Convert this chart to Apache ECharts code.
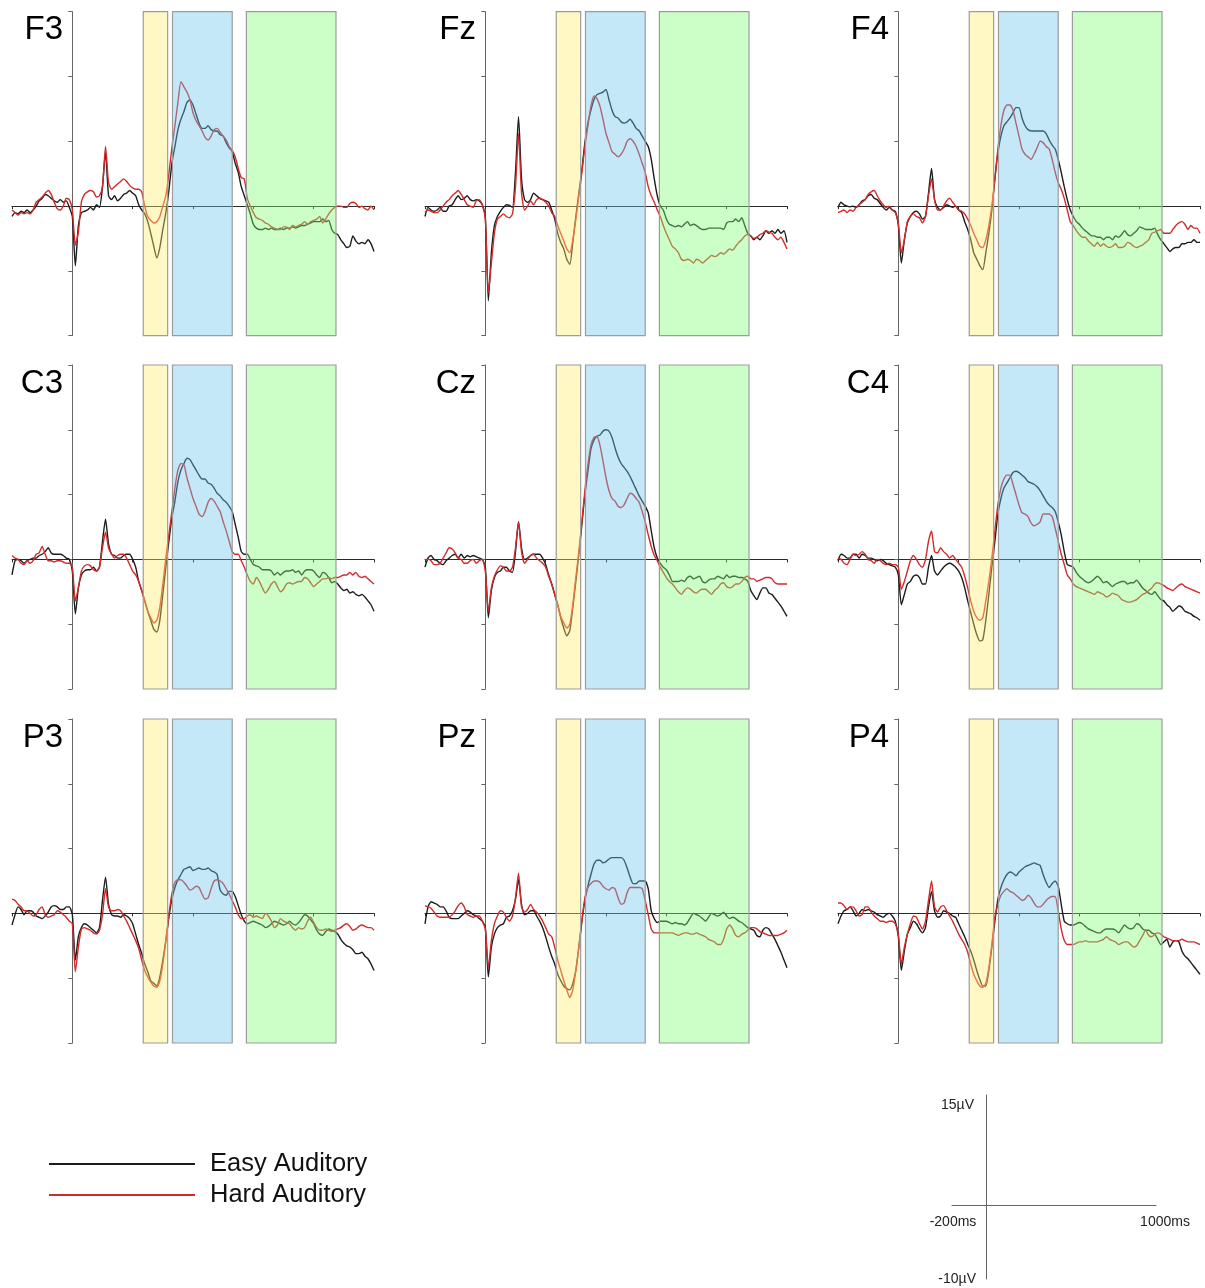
<!DOCTYPE html>
<html>
<head>
<meta charset="utf-8">
<script src="https://cdn.jsdelivr.net/npm/echarts@6/dist/echarts.min.js"></script>
<style>
html,body{margin:0;padding:0;background:#fff;}
#chart{width:1205px;height:1288px;}
</style>
</head>
<body>
<div id="chart"></div>
<script>
// ---------------- DATA ----------------
// time axis (ms), one sample every 10 ms from -200 to 1000
const times = Array.from({length: 121}, (_, i) => -200 + 10 * i);

const channels = ['F3', 'Fz', 'F4', 'C3', 'Cz', 'C4', 'P3', 'Pz', 'P4'];
const seriesNames = ['Easy Auditory', 'Hard Auditory'];

// analysis windows (ms)
const windows = [[235, 316], [332, 530], [577, 874]];

// scale bar labels
const scaleLabels = ['15\u00b5V', '-10\u00b5V', '-200ms', '1000ms'];

// amplitudes (µV)
const F3_easy = [-0.8,-0.5,-0.6,-0.4,-0.5,-0.3,-0.5,-0.3,0,0.4,
 0.6,0.9,0.8,0.6,0.4,0.3,0.5,0.3,0.4,-0.1,
 -0.8,-4.6,-1.5,-0.5,-0.4,-0.3,-0.1,-0.3,0.1,-0.1,
 1.5,4.2,0.8,0.5,0.8,0.4,0.6,0.9,1.0,1.2,
 1.0,0.8,0.1,-0.3,-0.6,-1.2,-2.1,-3.1,-4.0,-3.2,
 -1.8,-0.5,1.2,3.3,4.6,5.9,6.7,7.3,8.0,8.2,
 7.8,7.1,6.4,6.0,6.0,6.2,5.9,5.8,5.8,5.5,
 5.4,4.9,4.5,4.2,3.3,2.6,1.5,0.8,0.1,-0.6,
 -1.4,-1.7,-1.8,-1.8,-1.7,-1.8,-1.7,-1.8,-1.8,-1.7,
 -1.8,-1.7,-1.7,-1.6,-1.7,-1.6,-1.5,-1.5,-1.4,-1.3,
 -1.2,-1.2,-1.2,-1.0,-1.2,-1.1,-1.8,-2.1,-2.2,-2.6,
 -2.9,-3.2,-3.1,-2.3,-2.7,-2.9,-2.8,-2.9,-2.6,-2.9,
 -3.5];
const F3_hard = [-0.3,-0.5,-0.7,-0.5,-0.6,-0.5,-0.6,-0.3,0.3,0.5,
 0.7,1.0,1.2,0.9,0.3,-0.2,-0.3,0.0,0.6,0.5,
 -0.3,-3.0,-2.0,0.3,0.9,1.1,1.2,1.1,0.7,0.8,
 1.5,4.6,1.8,1.3,1.5,1.7,1.9,2.1,1.9,1.6,
 1.4,1.3,1.3,1.1,0.0,-0.8,-1.1,-1.3,-1.2,-0.8,
 0.0,0.8,2.5,4.5,6.2,8.0,9.6,9.2,8.8,8.2,
 7.2,6.6,6.2,5.8,5.3,5.1,5.4,5.9,6.0,5.7,
 5.4,5.1,4.6,4.3,3.8,2.9,2.2,2.1,0.6,0.0,
 -0.5,-0.9,-1.0,-1.1,-1.3,-1.4,-1.6,-1.7,-1.8,-1.8,
 -1.6,-1.6,-1.8,-1.5,-1.6,-1.5,-1.4,-1.2,-1.4,-1.2,
 -1.1,-1.0,-0.8,-1.3,-1.0,-0.6,-0.3,-0.1,0.0,0.0,
 -0.1,-0.1,0.2,0.3,0.2,-0.1,0.0,-0.2,-0.3,0.0,
 -0.3];
const Fz_easy = [-0.8,-0.1,-0.3,-0.4,-0.3,-0.1,-0.4,-0.4,0,0.1,
 0.5,0.8,0.5,0.6,0.8,0.5,0.4,0.5,0.4,0.1,
 -0.8,-7.3,-3.6,-1.5,-0.8,-0.4,-0.1,0.1,0.05,-0.1,
 2.6,6.9,2.1,0.5,0.3,0.5,1.0,0.8,0.6,0.5,
 0.4,0.3,-0.3,-1.0,-2.1,-2.8,-3.3,-4.1,-4.5,-2.8,
 -0.8,1.0,2.8,4.9,6.4,7.4,8.2,8.6,8.7,8.8,
 9.0,8.2,7.4,6.9,6.8,6.5,6.4,6.5,6.7,6.4,
 6.0,5.8,5.4,5.0,4.6,3.6,2.1,0.8,0.0,-0.3,
 -1.0,-1.4,-1.5,-1.6,-1.5,-1.6,-1.4,-1.2,-1.5,-1.4,
 -1.5,-1.7,-1.8,-1.8,-1.7,-1.7,-1.7,-1.7,-1.7,-1.8,
 -1.3,-1.2,-1.2,-1.0,-1.2,-0.9,-1.5,-2.1,-2.3,-2.6,
 -2.4,-2.6,-2.3,-1.9,-2.1,-1.9,-2.1,-1.8,-2.1,-1.9,
 -2.8];
const Fz_hard = [-0.5,-0.3,-0.4,-0.5,-0.5,-0.3,0,0.3,0.5,0.8,
 1.0,1.2,0.9,0.5,0.1,0,-0.1,0.4,0.5,0.1,
 -1.0,-6.7,-4.4,-2.1,-1.0,-0.8,-0.6,-0.8,-0.9,-0.6,
 1.5,5.6,1.0,-0.3,0,0.4,0.1,0.5,0.6,0.5,
 0.3,0,-0.5,-0.8,-1.5,-2.1,-2.7,-3.3,-3.6,-2.6,
 -1.0,0.8,2.6,4.6,6.2,7.7,8.5,8.3,7.7,6.7,
 5.6,4.9,4.2,4.0,3.8,4.0,4.4,5.0,5.2,5.0,
 4.6,4.0,3.3,2.6,1.5,0.8,0.3,-0.3,-0.8,-1.5,
 -2.1,-2.6,-3.1,-3.3,-3.6,-4.1,-4.2,-4.1,-4.2,-4.4,
 -4.1,-4.2,-4.4,-4.2,-4.0,-3.8,-3.9,-3.8,-3.6,-3.7,
 -3.5,-3.3,-3.4,-3.1,-2.8,-2.6,-2.3,-2.2,-2.3,-2.5,
 -2.4,-2.2,-2.1,-1.9,-2.0,-2.1,-2.4,-2.6,-2.4,-2.8,
 -3.3];
const F4_easy = [-0.1,0.3,0.1,0,-0.05,0,-0.1,0.1,0.4,0.5,
 0.8,0.9,0.6,0.5,0.2,-0.1,-0.3,-0.1,-0.3,-0.4,
 -1.5,-4.4,-2.6,-1.3,-0.8,-0.5,-0.4,-0.6,-1.0,-0.8,
 1.0,2.9,0.5,-0.1,-0.3,-0.1,0.1,0,-0.1,0,
 -0.3,-0.5,-1.2,-1.8,-2.6,-3.6,-4.1,-4.6,-4.9,-3.6,
 -2.1,-0.3,2.1,4.1,5.4,6.2,6.5,6.8,7.2,7.6,
 7.6,6.8,6.2,5.9,5.8,5.8,5.8,5.8,5.8,5.6,
 5.1,4.7,4.4,3.6,2.6,1.5,0.5,-0.3,-0.8,-1.2,
 -1.4,-1.7,-1.9,-2.1,-2.3,-2.3,-2.4,-2.4,-2.6,-2.4,
 -2.4,-2.6,-2.3,-2.4,-2.2,-1.9,-2.2,-2.3,-2.1,-1.9,
 -1.6,-1.7,-1.8,-1.8,-1.8,-1.7,-2.2,-2.6,-2.9,-3.2,
 -3.5,-3.3,-3.2,-3.2,-2.9,-2.9,-2.8,-2.8,-2.6,-2.8,
 -2.8];
const F4_hard = [-0.5,-0.4,-0.3,-0.5,-0.3,-0.4,-0.1,0.1,0.3,0.5,
 0.9,1.1,1.2,0.8,0.4,0.1,-0.1,0,-0.3,-0.5,
 -1.3,-3.6,-2.6,-1.2,-0.8,-0.6,-0.8,-0.9,-1.3,-0.8,
 0.8,2.1,0.5,-0.3,-0.3,0,0.4,0.6,0.3,0,
 -0.3,-0.4,-0.6,-1.0,-1.5,-2.1,-2.6,-3.1,-3.2,-2.6,
 -1.5,0,2.1,4.4,6.2,7.4,7.8,7.8,7.4,6.4,
 5.4,4.4,4.0,3.8,3.6,4.0,4.5,5.0,4.9,4.6,
 4.4,3.6,2.6,1.8,1.3,0.6,-0.3,-1.2,-1.5,-1.9,
 -2.2,-2.4,-2.4,-2.7,-2.9,-3.1,-2.8,-3.1,-2.9,-3.1,
 -3.2,-3.1,-2.9,-3.2,-3.2,-3.1,-2.8,-2.9,-3.1,-3.2,
 -3.1,-3.0,-2.8,-2.6,-2.1,-2.0,-1.9,-1.8,-2.1,-2.1,
 -2.1,-1.8,-1.5,-1.3,-1.2,-1.4,-1.8,-1.5,-1.7,-1.7,
 -2.1];
const C3_easy = [-1.2,-0.1,0,-0.1,-0.3,-0.1,0,0.1,0.1,0.3,
 0.4,0.6,0.9,0.5,0.4,0.4,0.4,0.3,0.1,0,
 -0.9,-4.2,-2.2,-1.2,-0.9,-0.8,-0.8,-0.6,-0.9,-0.6,
 1.4,3.1,1.2,0.4,0.3,0.1,0.1,0.3,0.4,0.4,
 0,-0.6,-1.7,-2.4,-3.2,-4.0,-4.7,-5.4,-5.6,-4.7,
 -2.7,-0.6,1.4,3.2,4.5,6.0,6.9,7.4,7.8,7.7,
 7.3,6.9,6.5,6.2,6.2,5.9,5.8,5.5,5.1,4.9,
 4.6,4.4,4.1,3.7,2.7,1.7,0.6,0.4,0.4,0,
 -0.4,-0.5,-0.6,-0.8,-0.8,-0.8,-0.9,-1.2,-1.0,-1.2,
 -1.0,-0.9,-0.9,-0.8,-1.0,-0.9,-1.2,-0.9,-0.8,-0.8,
 -0.9,-1.2,-1.4,-1.0,-1.1,-1.4,-1.8,-1.7,-1.9,-2.2,
 -2.4,-2.3,-2.6,-2.5,-2.7,-2.8,-2.7,-2.9,-3.2,-3.5,
 -4.0];
const C3_hard = [0.3,0.1,0,-0.3,-0.4,-0.1,-0.3,-0.1,0.4,0.5,
 1.0,0.4,-0.1,-0.1,-0.2,-0.1,-0.1,-0.2,-0.3,-0.3,
 -0.6,-3.2,-2.2,-0.9,-0.5,-0.4,-0.5,-0.8,-0.9,-0.6,
 0.9,2.1,0.9,0.4,0.1,0.3,0.4,0.4,0.1,-0.4,
 -0.9,-1.2,-1.7,-2.4,-3.2,-4.0,-4.5,-4.9,-4.7,-3.7,
 -1.9,0.1,1.9,3.7,5.5,6.9,7.4,7.3,6.3,5.5,
 4.7,4.1,3.5,3.3,3.7,4.4,4.7,4.5,4.1,3.7,
 2.9,2.2,1.4,0.6,0.4,0.4,-0.1,-0.6,-1.2,-1.7,
 -1.9,-1.4,-1.7,-2.2,-2.6,-2.3,-1.9,-1.7,-2.1,-2.5,
 -2.3,-1.9,-1.8,-1.9,-1.8,-1.7,-1.7,-1.4,-1.5,-1.8,
 -2.1,-1.9,-1.7,-1.5,-1.5,-1.4,-1.5,-1.4,-1.4,-1.3,
 -1.2,-1.2,-1.0,-1.2,-1.0,-1.3,-1.4,-1.3,-1.5,-1.7,
 -1.9];
const Cz_easy = [-0.6,0.1,0.3,0,-0.1,-0.3,-0.4,-0.1,0.1,0.3,
 0.4,0.1,0.4,0.1,0.3,0.2,0.3,0.2,0.1,0,
 -0.6,-4.5,-2.4,-1.4,-1.0,-0.9,-0.6,-0.6,-0.9,-1.0,
 0.6,2.9,0.9,0,0.1,0.3,0.4,0.4,0.4,0.1,
 -0.4,-1.2,-1.9,-2.7,-3.5,-4.5,-5.3,-5.9,-5.5,-3.7,
 -1.7,0.4,2.7,5.0,6.8,8.5,9.2,9.5,9.6,9.9,
 10.0,9.9,9.4,8.6,7.9,7.4,7.1,6.8,6.4,5.9,
 5.4,4.9,4.5,4.1,3.6,2.2,0.9,0.1,-0.3,-0.6,
 -0.8,-1.2,-1.7,-1.7,-1.7,-1.6,-1.7,-1.4,-1.3,-1.5,
 -1.4,-1.3,-1.7,-1.8,-1.6,-1.5,-1.5,-1.3,-1.4,-1.5,
 -1.2,-1.4,-1.3,-1.3,-1.4,-1.4,-1.5,-1.7,-2.4,-2.8,
 -3.1,-2.6,-2.2,-2.2,-2.6,-2.7,-3.0,-3.3,-3.6,-4.0,
 -4.4];
const Cz_hard = [0,0,-0.1,-0.4,-0.4,-0.3,0.1,0.5,0.9,0.8,
 0.5,0.1,0,-0.3,-0.3,-0.1,0,-0.3,-0.1,0,
 -0.9,-4.0,-2.2,-1.3,-0.8,-0.5,-0.6,-0.9,-0.9,-0.6,
 0.9,2.9,0.6,-0.3,0,0.3,0.4,0.1,-0.1,-0.3,
 -0.6,-1.3,-1.9,-2.7,-3.5,-4.4,-4.9,-5.3,-5.0,-3.5,
 -1.4,0.6,2.9,5.3,7.3,8.8,9.4,9.5,8.8,7.6,
 6.3,5.3,4.7,4.5,4.1,4.0,4.2,4.7,5.1,5.0,
 4.7,4.4,3.7,2.9,1.9,1.0,0.3,-0.1,-0.6,-1.0,
 -1.4,-1.7,-1.9,-2.2,-2.5,-2.7,-2.4,-2.2,-2.3,-2.5,
 -2.6,-2.4,-2.3,-2.3,-2.5,-2.7,-2.4,-2.2,-1.9,-1.8,
 -2.1,-2.2,-2.1,-1.9,-1.9,-1.7,-1.4,-1.3,-1.5,-1.5,
 -1.7,-1.6,-1.5,-1.4,-1.4,-1.5,-1.8,-1.9,-1.9,-1.9,
 -1.9];
const C4_easy = [-0.1,0.4,0.3,0.1,0.1,0.4,0.4,0.1,0.4,0.3,
 0.1,0.1,0,-0.1,0,-0.1,-0.3,-0.4,-0.5,-0.6,
 -1.2,-3.5,-2.7,-1.9,-1.7,-1.3,-1.2,-1.4,-1.9,-1.9,
 -0.6,0.3,-0.9,-1.2,-0.9,-0.6,-0.4,-0.3,-0.4,-0.6,
 -0.9,-1.4,-2.2,-3.2,-4.1,-5.0,-5.8,-6.3,-6.2,-4.7,
 -2.7,-0.6,1.4,3.5,4.7,5.5,5.9,6.3,6.7,6.8,
 6.7,6.5,6.3,6.0,5.9,5.8,5.6,5.3,4.9,4.5,
 4.2,4.0,3.7,2.9,1.9,0.6,-0.4,-0.5,-0.6,-1.0,
 -1.3,-1.5,-1.7,-1.8,-1.7,-1.5,-1.3,-1.5,-1.8,-1.7,
 -1.9,-2.1,-1.9,-1.8,-1.7,-1.7,-1.9,-1.8,-1.8,-1.6,
 -1.9,-2.2,-2.4,-2.6,-2.7,-2.5,-2.8,-3.1,-3.2,-3.5,
 -3.7,-4.0,-3.8,-3.6,-3.7,-4.0,-4.1,-4.2,-4.4,-4.5,
 -4.7];
const C4_hard = [0.1,0,-0.3,-0.4,0,0.4,0.3,0.4,0.6,0.4,
 0,-0.1,-0.3,0,-0.1,-0.3,-0.4,-0.3,-0.4,-0.4,
 -0.6,-2.3,-1.7,-0.9,-0.1,0.3,0,-0.4,-0.6,0,
 1.4,2.2,0.6,0.5,0.9,0.6,0.4,0.1,0.3,0,
 -0.3,-0.6,-1.3,-2.2,-3.2,-4.0,-4.5,-4.7,-4.5,-3.2,
 -1.7,0.1,2.2,4.2,5.5,6.2,6.5,6.5,5.8,5.0,
 4.2,3.6,3.5,3.3,2.8,2.6,2.7,2.9,3.5,3.5,
 3.5,3.3,2.4,1.4,0.4,-0.4,-1.2,-1.5,-1.9,-2.1,
 -2.2,-2.3,-2.4,-2.5,-2.6,-2.7,-2.5,-2.6,-2.7,-2.9,
 -2.8,-2.6,-2.7,-2.8,-3.1,-3.2,-3.3,-3.3,-3.2,-3.1,
 -2.9,-2.7,-2.6,-2.4,-2.2,-1.9,-1.8,-1.9,-2.0,-2.2,
 -2.3,-2.4,-2.2,-2.0,-1.9,-2.1,-2.2,-2.3,-2.4,-2.5,
 -2.6];
const P3_easy = [-0.9,-0.1,0.5,0.3,-0.1,0.2,0.2,0.1,-0.2,-0.3,
 -0.4,-0.2,0.1,0.5,0.6,0.5,0.3,0.3,0.5,0.5,
 -0.1,-3.6,-1.8,-1.1,-0.8,-0.9,-1.1,-1.3,-1.5,-1.1,
 1.0,2.8,0.7,-0.1,-0.2,-0.2,-0.3,-0.1,-0.2,-0.4,
 -0.8,-1.6,-2.4,-3.1,-3.9,-4.5,-5.2,-5.4,-5.6,-4.9,
 -3.6,-2.1,-0.3,1.1,2.0,2.6,3.0,3.4,3.5,3.6,
 3.3,3.4,3.5,3.4,3.4,3.5,3.3,3.2,3.0,1.8,
 1.5,1.4,1.7,1.7,1.3,0.6,-0.1,-0.6,-0.8,-0.7,
 -0.6,-0.7,-0.8,-0.9,-1.1,-1.0,-0.8,-0.6,-0.7,-0.8,
 -0.9,-0.8,-0.6,-0.8,-0.9,-0.7,-0.4,-0.1,-0.2,-0.5,
 -0.8,-1.3,-1.6,-1.7,-1.4,-1.2,-1.3,-1.4,-1.6,-2.0,
 -2.3,-2.5,-2.6,-2.8,-3.1,-3.1,-3.0,-3.3,-3.5,-3.9,
 -4.4];
const P3_hard = [1.1,1.0,0.7,0.5,0.2,0.2,0,-0.2,-0.1,0.3,
 0.5,-0.1,-0.3,-0.2,-0.1,0.2,0.1,-0.1,-0.3,-0.6,
 -0.8,-4.5,-2.6,-1.2,-1.1,-1.2,-1.3,-1.5,-1.6,-1.3,
 -0.1,1.9,0.5,0.2,0.2,0.3,0.2,-0.2,-0.6,-1.1,
 -1.6,-2.1,-2.7,-3.6,-4.4,-4.9,-5.3,-5.6,-5.7,-5.2,
 -3.9,-2.1,-0.1,1.5,2.4,2.6,2.6,2.4,2.1,1.8,
 1.9,2.1,2.0,1.5,1.1,1.2,1.9,2.5,2.6,2.5,
 2.3,1.9,1.5,1.0,0.5,-0.1,-0.4,-0.4,-0.2,-0.1,
 -0.3,-0.2,-0.3,-0.4,0,-0.2,-0.6,-1.1,-0.9,-0.4,
 -0.6,-0.7,-0.8,-1.1,-1.3,-1.1,-1.2,-1.1,-0.6,-0.3,
 -0.7,-1.1,-1.3,-1.3,-1.2,-1.3,-1.4,-1.3,-1.2,-1.1,
 -0.9,-0.8,-1.0,-1.3,-1.2,-1.0,-0.9,-1.0,-1.1,-1.1,
 -1.3];
const Pz_easy = [-0.8,0.5,0.9,0.8,0.7,0.5,0.5,0.2,-0.3,-0.4,
 -0.4,-0.4,-0.2,0,0.2,0.1,-0.1,-0.2,-0.4,-0.6,
 -1.1,-4.9,-2.6,-1.6,-1.1,-0.9,-0.8,-0.3,-0.2,0.2,
 1.1,2.6,0.7,-0.1,0,0.2,0.2,-0.2,-0.6,-1.1,
 -1.8,-2.6,-3.3,-3.9,-4.7,-5.2,-5.6,-5.8,-5.9,-5.4,
 -4.4,-2.6,-0.6,1.0,2.1,3.0,3.8,4.1,4.1,3.9,
 4.0,4.2,4.3,4.3,4.3,4.3,4.1,3.5,2.8,2.3,
 2.3,2.5,2.5,2.5,1.9,0.2,-0.4,-0.7,-0.6,-0.6,
 -0.6,-0.7,-0.8,-0.7,-0.8,-0.8,-0.9,-0.7,-0.3,0,
 -0.1,-0.2,-0.4,-0.6,-0.3,0,-0.1,-0.2,-0.1,0.1,
 -0.2,-0.4,-0.3,-0.4,-0.6,-0.7,-0.9,-1.1,-1.2,-1.3,
 -1.7,-1.8,-1.3,-1.1,-1.2,-1.6,-2.0,-2.5,-3.0,-3.6,
 -4.2];
const Pz_hard = [0.6,0.5,0.4,0.1,-0.2,-0.3,-0.3,-0.3,-0.3,-0.1,
 0.2,0.6,0.8,0.5,-0.1,-0.2,-0.3,-0.2,-0.2,-0.6,
 -1.2,-4.2,-2.1,-0.8,-0.2,0.2,0.1,-0.3,-0.6,-0.2,
 1.2,3.1,0.5,0.1,0.3,0.7,0.3,0.1,-0.2,-0.6,
 -1.1,-1.6,-1.8,-2.6,-3.6,-4.4,-5.2,-5.9,-6.5,-5.9,
 -4.4,-2.6,-0.6,1.2,2.0,2.3,2.5,2.5,2.4,2.1,
 1.9,1.8,2.0,1.9,1.2,0.7,0.8,1.6,2.0,2.0,
 2.0,2.0,1.9,1.0,-0.1,-1.2,-1.5,-1.5,-1.5,-1.5,
 -1.5,-1.5,-1.5,-1.6,-1.7,-1.6,-1.5,-1.5,-1.6,-1.6,
 -1.5,-1.6,-1.7,-1.8,-2.0,-2.1,-2.2,-2.4,-2.4,-2.0,
 -1.2,-0.9,-1.2,-1.7,-1.8,-1.6,-1.5,-1.3,-1.1,-1.1,
 -1.2,-1.4,-1.5,-1.6,-1.7,-1.7,-1.7,-1.7,-1.6,-1.5,
 -1.3];
const P4_easy = [-0.8,-0.2,0.2,0.3,0.5,0.2,-0.2,0,0.3,0.2,
 0.3,0.2,0.1,-0.1,-0.2,-0.3,-0.1,0,-0.2,-0.6,
 -1.8,-4.4,-2.9,-1.6,-1.1,-0.6,-0.8,-1.2,-1.5,-1.1,
 0.5,1.7,0.2,-0.3,-0.2,0.2,0.1,0,-0.2,-0.3,
 -0.8,-1.3,-1.8,-2.4,-2.9,-3.6,-4.4,-5.1,-5.6,-5.6,
 -4.4,-2.6,-0.6,1.1,2.0,2.6,3.0,3.2,3.1,2.9,
 3.2,3.4,3.6,3.7,3.8,3.9,3.8,3.7,3.0,2.4,
 2.0,2.3,2.5,2.1,0.7,-0.6,-0.8,-0.9,-0.9,-0.8,
 -0.7,-0.8,-1.0,-1.2,-1.3,-1.4,-1.5,-1.5,-1.3,-1.2,
 -1.2,-1.2,-1.3,-1.5,-1.2,-0.9,-1.1,-1.2,-1.1,-0.8,
 -0.9,-1.2,-1.3,-1.3,-1.5,-1.6,-2.0,-2.4,-2.2,-2.0,
 -2.6,-2.2,-2.1,-2.2,-2.9,-3.3,-3.5,-3.8,-4.1,-4.4,
 -4.7];
const P4_hard = [0.8,0.8,0.6,0.3,0.5,0.5,0.2,-0.2,-0.1,0.5,
 0.5,0.1,-0.2,-0.4,-0.6,-0.6,-0.7,-0.6,-0.6,-0.8,
 -1.6,-3.9,-2.6,-1.6,-0.8,-0.2,-0.3,-0.8,-1.2,-0.6,
 1.0,2.5,0.5,0.1,0.5,0.6,0.2,-0.2,-0.6,-1.1,
 -1.6,-2.0,-2.4,-3.0,-3.9,-4.7,-5.2,-5.6,-5.7,-5.4,
 -4.2,-2.4,-0.3,0.7,1.4,1.7,1.9,1.7,1.6,1.4,
 1.2,1.0,1.1,1.4,1.2,0.8,0.5,0.5,0.7,1.0,
 1.2,1.3,1.3,0.2,-1.2,-2.1,-2.4,-2.4,-2.4,-2.3,
 -2.2,-2.2,-2.1,-2.2,-2.2,-2.2,-2.2,-2.1,-2.0,-1.8,
 -2.0,-2.1,-2.2,-2.4,-2.3,-2.2,-2.2,-2.4,-2.6,-2.5,
 -2.1,-1.7,-1.3,-1.7,-1.8,-1.6,-1.5,-1.6,-1.8,-1.9,
 -2.0,-2.1,-2.1,-2.1,-2.0,-2.1,-2.2,-2.2,-2.2,-2.3,
 -2.4];

const easyData = [F3_easy, Fz_easy, F4_easy, C3_easy, Cz_easy, C4_easy, P3_easy, Pz_easy, P4_easy];
const hardData = [F3_hard, Fz_hard, F4_hard, C3_hard, Cz_hard, C4_hard, P3_hard, Pz_hard, P4_hard];

// ---------------- LAYOUT / STYLE ----------------
const FONT = '"Liberation Sans", Arial, Helvetica, sans-serif';
const colLeft = [12, 425, 838];
const rowTop = [11.7, 365, 719];
const PW = 362, PH = 324;
const boxFills = ['rgba(255,238,110,0.40)', 'rgba(110,197,238,0.40)', 'rgba(128,255,118,0.40)'];
const lineColors = ['#1c1c1c', '#d12a2a'];

const grids = [], xAxes = [], yAxes = [], series = [], graphics = [];

channels.forEach((ch, i) => {
  const r = Math.floor(i / 3), c = i % 3;
  grids.push({left: colLeft[c], top: rowTop[r], width: PW, height: PH, containLabel: false});
  xAxes.push({
    type: 'value', gridIndex: i, min: -200, max: 1000, interval: 200,
    axisLine: {show: true, onZero: true, lineStyle: {color: '#2a2a2a', width: 1}},
    axisTick: {show: true, length: 3, lineStyle: {color: '#2a2a2a'}},
    axisLabel: {show: false}, splitLine: {show: false}
  });
  yAxes.push({
    type: 'value', gridIndex: i, min: -10, max: 15, interval: 5,
    axisLine: {show: true, onZero: true, lineStyle: {color: '#666', width: 1}},
    axisTick: {show: true, length: 4, lineStyle: {color: '#666'}},
    axisLabel: {show: false}, splitLine: {show: false}
  });
  [easyData[i], hardData[i]].forEach((arr, k) => {
    series.push({
      name: seriesNames[k], type: 'line', xAxisIndex: i, yAxisIndex: i,
      data: times.map((t, j) => [t, arr[j]]),
      showSymbol: false, symbol: 'none', smooth: 0.2, z: 2 + k,
      lineStyle: {color: lineColors[k], width: 1.4},
      itemStyle: {color: lineColors[k]},
      animation: false
    });
  });
  series.push({
    type: 'custom', xAxisIndex: i, yAxisIndex: i, z: 10, silent: true,
    data: windows.map(w => [w[0], w[1], 0]),
    encode: {x: [0, 1], y: 2},
    renderItem: (params, api) => {
      const p0 = api.coord([api.value(0), 15]);
      const p1 = api.coord([api.value(1), -10]);
      return {type: 'rect',
        shape: {x: p0[0], y: p0[1], width: p1[0] - p0[0], height: p1[1] - p0[1]},
        style: {fill: boxFills[params.dataIndex], stroke: '#9c9c9c', lineWidth: 1.2}};
    },
    animation: false
  });
  graphics.push({
    type: 'text', x: colLeft[c] + 51, y: rowTop[r] + 2,
    style: {text: ch, font: '33px ' + FONT, fill: '#000', align: 'right', textAlign: 'right', verticalAlign: 'top', textVerticalAlign: 'top'}
  });
});

// scale bar panel
grids.push({left: 952, top: 1095, width: 204, height: 184});
xAxes.push({type: 'value', gridIndex: 9, min: -200, max: 1000, interval: 200,
  axisLine: {show: true, onZero: true, lineStyle: {color: '#666', width: 1}},
  axisTick: {show: false}, axisLabel: {show: false}, splitLine: {show: false}});
yAxes.push({type: 'value', gridIndex: 9, min: -10, max: 15, interval: 5,
  axisLine: {show: true, onZero: true, lineStyle: {color: '#666', width: 1}},
  axisTick: {show: false}, axisLabel: {show: false}, splitLine: {show: false}});
series.push({type: 'line', xAxisIndex: 9, yAxisIndex: 9, data: [], silent: true});

const scalePos = [
  {x: 974, y: 1105, align: 'right'},
  {x: 976, y: 1279, align: 'right'},
  {x: 953, y: 1222, align: 'center'},
  {x: 1165, y: 1222, align: 'center'}
];
scaleLabels.forEach((s, i) => {
  graphics.push({type: 'text', x: scalePos[i].x, y: scalePos[i].y,
    style: {text: s, font: '14px ' + FONT, fill: '#222', align: scalePos[i].align, textAlign: scalePos[i].align,
      verticalAlign: 'middle', textVerticalAlign: 'middle'}});
});

const chart = echarts.init(document.getElementById('chart'), null, {renderer: 'canvas'});
chart.setOption({
  backgroundColor: '#ffffff',
  animation: false,
  grid: grids, xAxis: xAxes, yAxis: yAxes, series: series, graphic: graphics,
  legend: {
    data: seriesNames, orient: 'vertical', left: 44, top: 1146,
    itemWidth: 146, itemHeight: 2, itemGap: 5, icon: 'rect',
    selectedMode: false,
    textStyle: {fontSize: 25.5, fontFamily: FONT, color: '#111', lineHeight: 26, padding: [0, 0, 0, 10]}
  }
});
</script>
</body>
</html>
